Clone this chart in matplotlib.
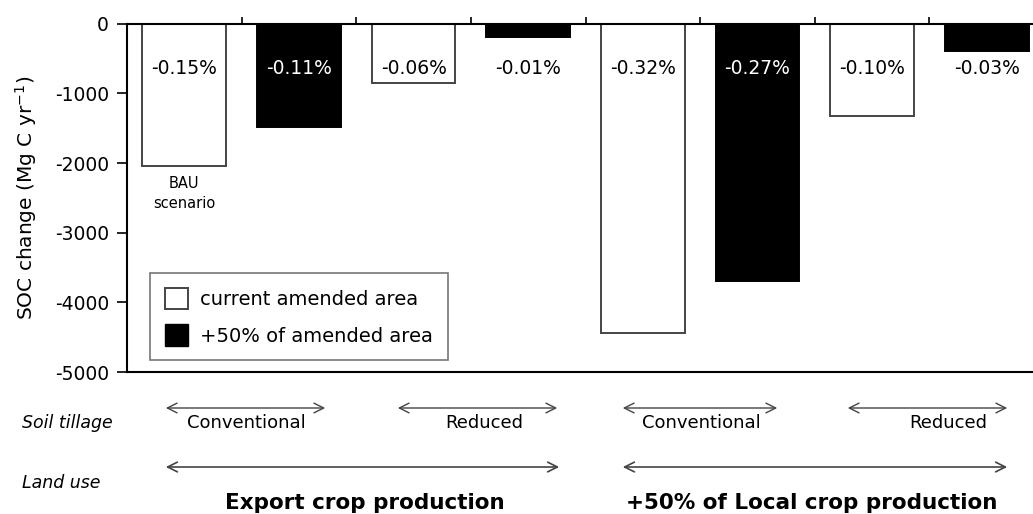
import matplotlib
matplotlib.use("Agg")
import matplotlib.pyplot as plt
from matplotlib.patches import Patch, FancyArrowPatch
import numpy as np

plt.rcParams['font.family'] = ['DejaVu Sans']

# Data
soc_change = [-2040, -1480, -850, -190, -4440, -3690, -1320, -390]
pct_labels = ["-0.15%", "-0.11%", "-0.06%", "-0.01%", "-0.32%", "-0.27%", "-0.10%", "-0.03%"]
series = ["current", "plus50", "current", "plus50", "current", "plus50", "current", "plus50"]
legend_labels = ["current amended area", "+50% of amended area"]
tillage_labels = ["Conventional", "Reduced", "Conventional", "Reduced"]
landuse_labels = ["Export crop production", "+50% of Local crop production"]
yticks = [0, -1000, -2000, -3000, -4000, -5000]

fig = plt.figure(figsize=(10.33, 5.14), dpi=100)
ax = fig.add_axes([127/1033, 1-372/514, (1044-127)/1033, (372-23.7)/514])

x = np.arange(len(soc_change))
face = ['white' if s == 'current' else 'black' for s in series]
edge = ['#444444' if s == 'current' else 'black' for s in series]
ax.bar(x, soc_change, width=0.73, color=face, edgecolor=edge, linewidth=1.4, zorder=2)

ax.set_xlim(-0.5, len(x) - 0.5)
ax.set_ylim(-5000, 0)
ax.set_yticks(yticks)
ax.set_yticklabels([str(v) for v in yticks], fontsize=13.5)
ax.tick_params(axis='y', direction='out', length=7, width=1.2, pad=6)
ax.xaxis.tick_top()
ax.set_xticks(np.arange(0.5, len(x) - 1, 1.0))
ax.tick_params(axis='x', direction='out', length=5, width=1.2, labeltop=False, labelbottom=False)
for s in ['top', 'left', 'bottom']:
    ax.spines[s].set_linewidth(1.5)
ax.spines['right'].set_visible(False)
ax.set_ylabel("SOC change (Mg C yr$^{-1}$)", fontsize=14.5, labelpad=11)

for i, (v, lab) in enumerate(zip(soc_change, pct_labels)):
    col = 'white' if (series[i] == 'plus50' and v < -650) else 'black'
    ax.text(i, -650, lab, ha='center', va='center', fontsize=13.5, color=col, zorder=3)

ax.text(0, -2440, "BAU\nscenario", ha='center', va='center', fontsize=10.5, linespacing=1.4)

handles = [Patch(facecolor='white', edgecolor='#444444', linewidth=1.4),
           Patch(facecolor='black', edgecolor='black')]
leg = ax.legend(handles, legend_labels, loc='lower left', bbox_to_anchor=(0.015, 0.006),
                fontsize=14, frameon=True, fancybox=False, edgecolor='#555555',
                handlelength=1.2, handleheight=1.3, borderpad=0.75, labelspacing=0.8,
                handletextpad=0.6)
leg.get_frame().set_linewidth(1.2)

# Bottom annotations (figure pixel coords)
def fx(px):
    return px / 1033
def fy(py):
    return 1 - py / 514

fig.text(fx(22), fy(423), "Soil tillage", fontsize=12.5, style='italic', ha='left', va='center')
fig.text(fx(22), fy(483), "Land use", fontsize=12.5, style='italic', ha='left', va='center')

till_arrows = [(163, 328), (395, 560), (620, 780), (845, 1010)]
till_text_x = [246, 484, 701, 948]
for (a, b), tx, lab in zip(till_arrows, till_text_x, tillage_labels):
    fig.add_artist(FancyArrowPatch((fx(a), fy(408)), (fx(b), fy(408)),
                   transform=fig.transFigure, arrowstyle='<->,head_length=7,head_width=3.5',
                   color='#444444', linewidth=1.0))
    fig.text(fx(tx), fy(423), lab, fontsize=13, ha='center', va='center')

land_arrows = [(163, 562), (620, 1010)]
land_text_x = [365, 812]
for (a, b), tx, lab in zip(land_arrows, land_text_x, landuse_labels):
    fig.add_artist(FancyArrowPatch((fx(a), fy(467)), (fx(b), fy(467)),
                   transform=fig.transFigure, arrowstyle='<->,head_length=7,head_width=3.5',
                   color='#444444', linewidth=1.2))
    fig.text(fx(tx), fy(503), lab, fontsize=15.5, fontweight='bold', ha='center', va='center')

fig.savefig("out.png", dpi=100)
